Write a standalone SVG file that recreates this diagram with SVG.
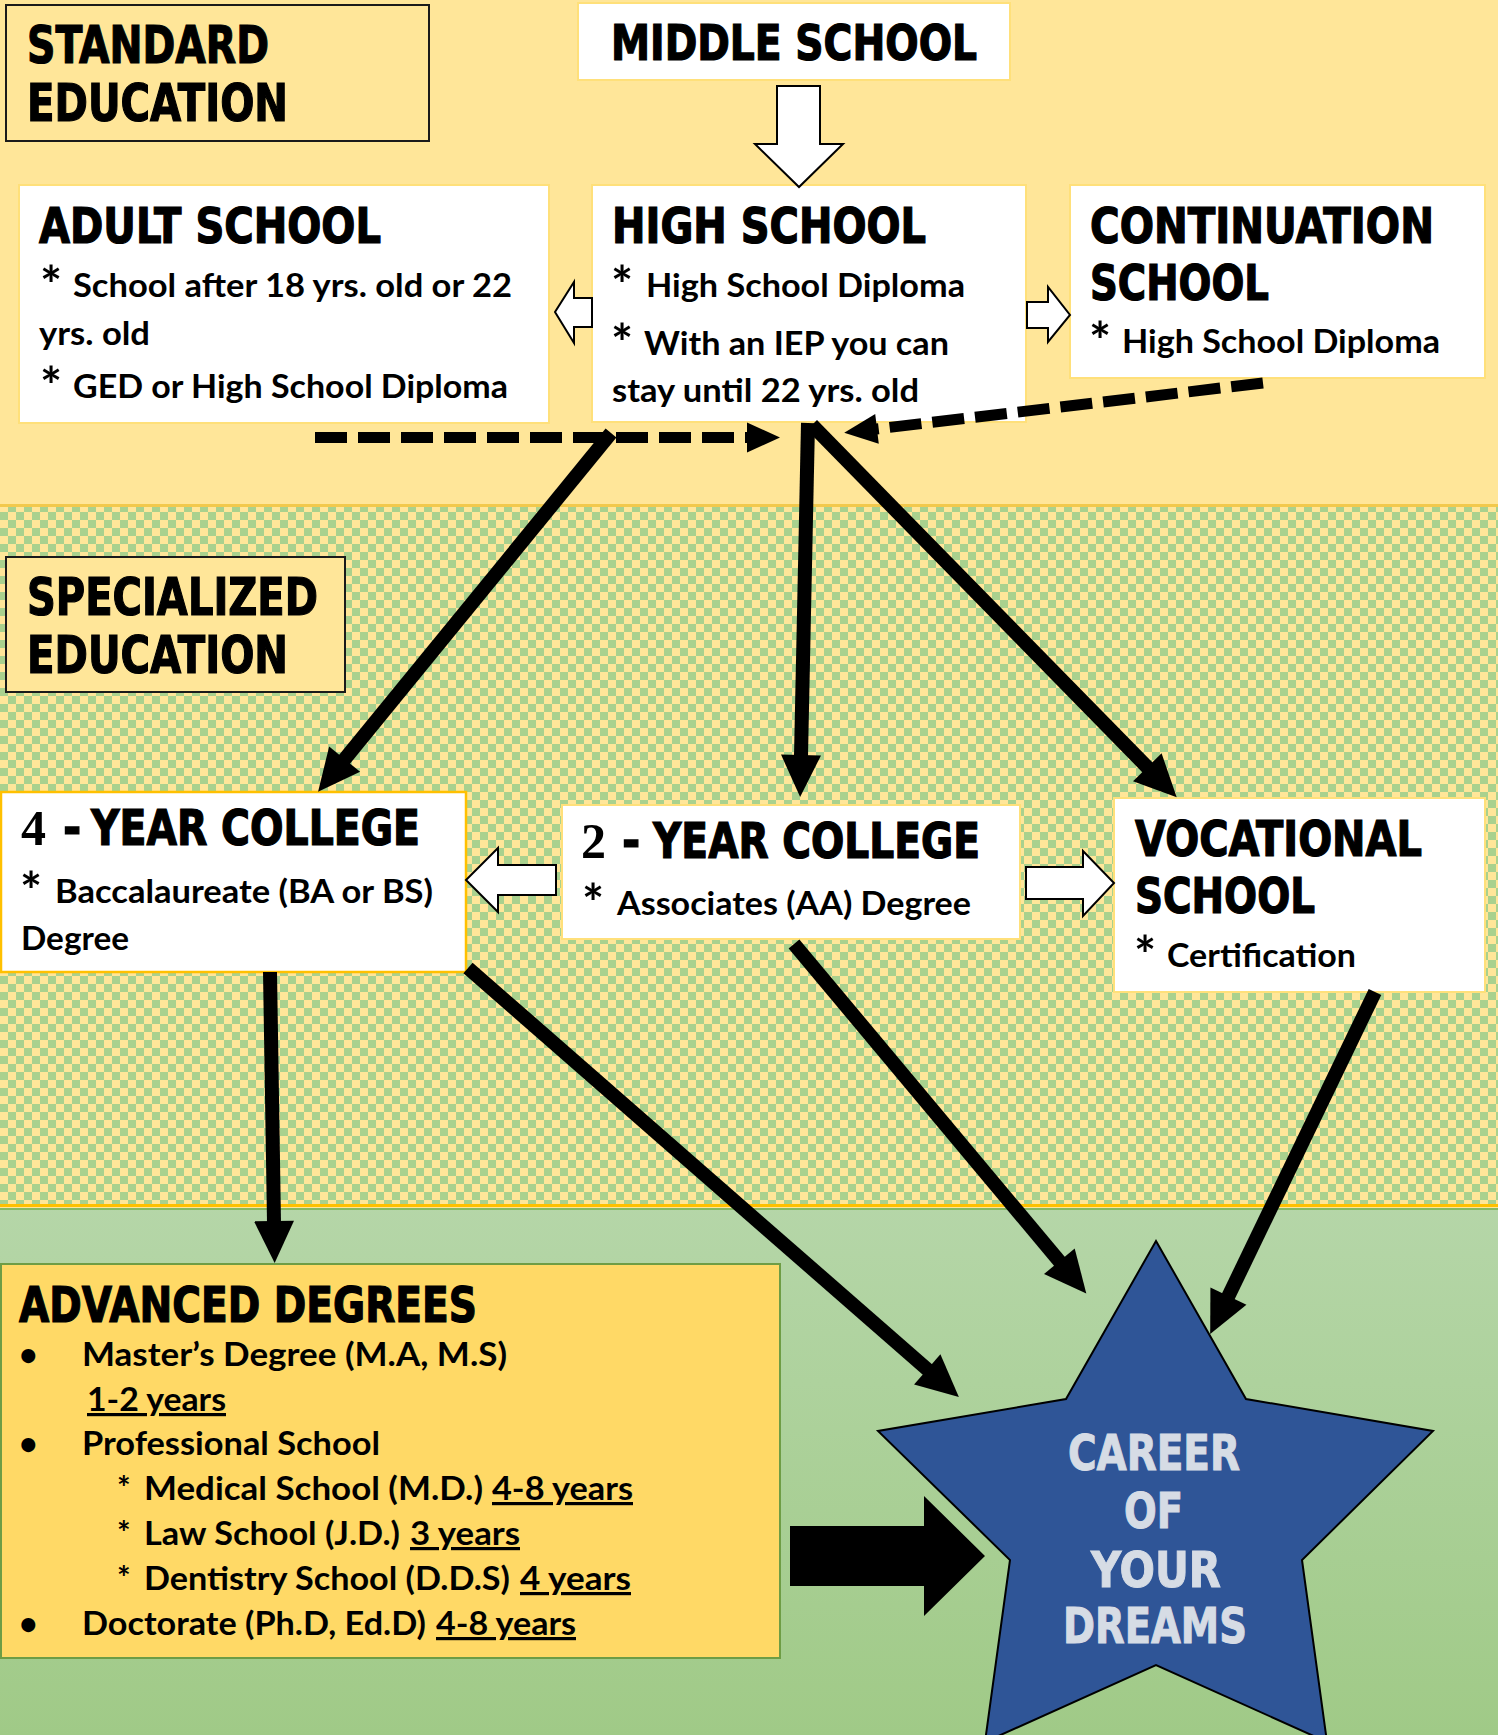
<svg xmlns="http://www.w3.org/2000/svg" width="1498" height="1735" viewBox="0 0 1498 1735">
<defs>
<pattern id="chk" x="0" y="0" width="16" height="16" patternUnits="userSpaceOnUse">
<rect width="16" height="16" fill="#FFE699"/>
<rect width="8" height="8" fill="#A9D18E"/>
<rect x="8" y="8" width="8" height="8" fill="#A9D18E"/>
</pattern>
<linearGradient id="grn" x1="0" y1="0" x2="0" y2="1">
<stop offset="0" stop-color="#B5D6A8"/>
<stop offset="1" stop-color="#A0CA87"/>
</linearGradient>
<marker id="ah" markerUnits="userSpaceOnUse" orient="auto" refX="0" refY="0" markerWidth="60" markerHeight="60" overflow="visible">
<path d="M-1,-20 L41,0 L-1,20 Z" fill="#000"/>
</marker>
<marker id="dh" markerUnits="userSpaceOnUse" orient="auto" refX="0" refY="0" markerWidth="50" markerHeight="50" overflow="visible">
<path d="M-1,-15 L32,0 L-1,15 Z" fill="#000"/>
</marker>
<style>
.t{font-family:"DejaVu Sans Condensed","DejaVu Sans",sans-serif;font-weight:bold;font-size:49px;fill:#000;stroke:#000;stroke-width:1.2px}
.big{font-size:52px}
.sv{font-family:"Liberation Serif",serif;font-weight:bold;font-size:50px;fill:#000}
.b{font-family:Lato,"Open Sans",sans-serif;font-weight:700;font-size:33px;fill:#000}
.a{font-size:32px}
.ast{font-family:Lato,"Open Sans",sans-serif;font-weight:700;font-size:52px;fill:#000}
.u{text-decoration:underline}
.wb{fill:#fff;stroke:#FFE07A;stroke-width:2}
.lab{fill:#FFE699;stroke:#1a1a1a;stroke-width:2}
.blk{fill:#fff;stroke:#000;stroke-width:2;stroke-linejoin:miter}
.sl{stroke:#000;stroke-width:14;fill:none;marker-end:url(#ah)}
.dl{stroke:#000;stroke-width:11;fill:none;stroke-dasharray:32 11;marker-end:url(#dh)}
.st{font-family:"DejaVu Sans Condensed","DejaVu Sans",sans-serif;font-weight:bold;font-size:50px;fill:#D6DCE5;stroke:#D6DCE5;stroke-width:1px}
</style>
</defs>

<g id="background">
<rect x="0" y="0" width="1498" height="506" fill="#FFE699"/>
<rect x="0" y="506" width="1498" height="699" fill="url(#chk)"/>
<rect x="0" y="504" width="1498" height="3" fill="#F2C94C"/>
<rect x="0" y="1205" width="1498" height="530" fill="url(#grn)"/>
<rect x="0" y="1204" width="1498" height="3" fill="#FFC000"/>
<rect x="0" y="1207" width="1498" height="1" fill="#FFE699"/>
<rect x="0" y="1208" width="1498" height="2" fill="#86B862"/>
</g>

<g id="standard-education">
<rect class="lab" x="6" y="5" width="423" height="136"/>
<text class="t big" x="27" y="63" textLength="242" lengthAdjust="spacingAndGlyphs">STANDARD</text>
<text class="t big" x="27" y="121" textLength="261" lengthAdjust="spacingAndGlyphs">EDUCATION</text>
</g>

<g id="middle-school">
<rect class="wb" x="578" y="3" width="432" height="77"/>
<text class="t" x="611" y="60" textLength="366" lengthAdjust="spacingAndGlyphs">MIDDLE SCHOOL</text>
</g>

<g id="adult-school">
<rect class="wb" x="19" y="185" width="530" height="238"/>
<text class="t" x="39" y="243" textLength="342" lengthAdjust="spacingAndGlyphs">ADULT SCHOOL</text>
<text class="ast" x="40" y="304">*</text>
<text class="b" x="73" y="297" textLength="439" lengthAdjust="spacingAndGlyphs">School after 18 yrs. old or 22</text>
<text class="b" x="39" y="345" textLength="111" lengthAdjust="spacingAndGlyphs">yrs. old</text>
<text class="ast" x="40" y="405">*</text>
<text class="b" x="73" y="398" textLength="435" lengthAdjust="spacingAndGlyphs">GED or High School Diploma</text>
</g>

<g id="high-school">
<rect class="wb" x="592" y="185" width="434" height="237"/>
<text class="t" x="612" y="243" textLength="314" lengthAdjust="spacingAndGlyphs">HIGH SCHOOL</text>
<text class="ast" x="611" y="304">*</text>
<text class="b" x="646" y="297" textLength="319" lengthAdjust="spacingAndGlyphs">High School Diploma</text>
<text class="ast" x="611" y="362">*</text>
<text class="b" x="644" y="355" textLength="305" lengthAdjust="spacingAndGlyphs">With an IEP you can</text>
<text class="b" x="612" y="402" textLength="307" lengthAdjust="spacingAndGlyphs">stay until 22 yrs. old</text>
</g>

<g id="continuation-school">
<rect class="wb" x="1070" y="185" width="415" height="193"/>
<text class="t" x="1090" y="243" textLength="344" lengthAdjust="spacingAndGlyphs">CONTINUATION</text>
<text class="t" x="1090" y="300" textLength="179" lengthAdjust="spacingAndGlyphs">SCHOOL</text>
<text class="ast" x="1089" y="360">*</text>
<text class="b" x="1122" y="353" textLength="318" lengthAdjust="spacingAndGlyphs">High School Diploma</text>
</g>

<g id="specialized-education">
<rect class="lab" x="6" y="557" width="339" height="135"/>
<text class="t big" x="27" y="615" textLength="291" lengthAdjust="spacingAndGlyphs">SPECIALIZED</text>
<text class="t big" x="27" y="673" textLength="261" lengthAdjust="spacingAndGlyphs">EDUCATION</text>
</g>

<g id="four-year-college">
<rect x="1" y="792" width="465" height="180" fill="#fff" stroke="#FFC000" stroke-width="2.5"/>
<text class="sv" x="21" y="845">4</text>
<text class="t" x="63" y="845">-</text>
<text class="t" x="91" y="845" textLength="329" lengthAdjust="spacingAndGlyphs">YEAR COLLEGE</text>
<text class="ast" x="20" y="910">*</text>
<text class="b" x="55" y="903" textLength="378" lengthAdjust="spacingAndGlyphs">Baccalaureate (BA or BS)</text>
<text class="b" x="21" y="950" textLength="108" lengthAdjust="spacingAndGlyphs">Degree</text>
</g>

<g id="two-year-college">
<rect class="wb" x="562" y="805" width="458" height="134"/>
<text class="sv" x="581" y="858">2</text>
<text class="t" x="622" y="858">-</text>
<text class="t" x="653" y="858" textLength="327" lengthAdjust="spacingAndGlyphs">YEAR COLLEGE</text>
<text class="ast" x="582" y="922">*</text>
<text class="b" x="617" y="915" textLength="354" lengthAdjust="spacingAndGlyphs">Associates (AA) Degree</text>
</g>

<g id="vocational-school">
<rect class="wb" x="1114" y="798" width="371" height="194"/>
<text class="t" x="1135" y="856" textLength="287" lengthAdjust="spacingAndGlyphs">VOCATIONAL</text>
<text class="t" x="1135" y="913" textLength="180" lengthAdjust="spacingAndGlyphs">SCHOOL</text>
<text class="ast" x="1134" y="974">*</text>
<text class="b" x="1167" y="967" textLength="189" lengthAdjust="spacingAndGlyphs">Certification</text>
</g>

<g id="advanced-degrees">
<rect x="1" y="1264" width="779" height="394" fill="#FFD966" stroke="#6E9D45" stroke-width="2"/>
<text class="t" x="19" y="1322" textLength="458" lengthAdjust="spacingAndGlyphs">ADVANCED DEGREES</text>
<text class="b a" x="19" y="1366">•</text>
<text class="b a" x="82" y="1366" textLength="425" lengthAdjust="spacingAndGlyphs">Master’s Degree (M.A, M.S)</text>
<text class="b a u" x="87" y="1411" textLength="139" lengthAdjust="spacingAndGlyphs">1-2 years</text>
<text class="b a" x="19" y="1455">•</text>
<text class="b a" x="82" y="1455" textLength="298" lengthAdjust="spacingAndGlyphs">Professional School</text>
<text class="b a" x="117" y="1500">*</text>
<text class="b a" x="144" y="1500" textLength="339" lengthAdjust="spacingAndGlyphs">Medical School (M.D.)</text>
<text class="b a u" x="492" y="1500" textLength="141" lengthAdjust="spacingAndGlyphs">4-8 years</text>
<text class="b a" x="117" y="1545">*</text>
<text class="b a" x="144" y="1545" textLength="256" lengthAdjust="spacingAndGlyphs">Law School (J.D.)</text>
<text class="b a u" x="410" y="1545" textLength="110" lengthAdjust="spacingAndGlyphs">3 years</text>
<text class="b a" x="117" y="1590">*</text>
<text class="b a" x="144" y="1590" textLength="366" lengthAdjust="spacingAndGlyphs">Dentistry School (D.D.S)</text>
<text class="b a u" x="520" y="1590" textLength="111" lengthAdjust="spacingAndGlyphs">4 years</text>
<text class="b a" x="19" y="1635">•</text>
<text class="b a" x="82" y="1635" textLength="344" lengthAdjust="spacingAndGlyphs">Doctorate (Ph.D, Ed.D)</text>
<text class="b a u" x="436" y="1635" textLength="140" lengthAdjust="spacingAndGlyphs">4-8 years</text>
</g>

<g id="career-star">
<polygon points="1156,1241 1246,1399 1433,1431 1302,1560 1327,1742 1156,1665 985,1742 1010,1560 878,1431 1066,1399" fill="#2F5597" stroke="#000" stroke-width="2"/>
<text class="st" x="1068" y="1470" textLength="172" lengthAdjust="spacingAndGlyphs">CAREER</text>
<text class="st" x="1124" y="1528" textLength="59" lengthAdjust="spacingAndGlyphs">OF</text>
<text class="st" x="1091" y="1587" textLength="130" lengthAdjust="spacingAndGlyphs">YOUR</text>
<text class="st" x="1063" y="1643" textLength="184" lengthAdjust="spacingAndGlyphs">DREAMS</text>
</g>

<g id="connectors">
<polygon class="blk" points="777,86 820,86 820,144 843,144 799,187 755,144 777,144"/>
<polygon class="blk" points="592,298 574,298 574,282 555,312 574,343 574,327 592,327"/>
<polygon class="blk" points="1027,302 1048,302 1048,287 1070,315 1048,342 1048,328 1027,328"/>
<polygon class="blk" points="556,865 498,865 498,848 466,880 498,912 498,895 556,895"/>
<polygon class="blk" points="1026,867 1083,867 1083,851 1114,883 1083,916 1083,899 1026,899"/>
<line class="dl" x1="315" y1="437.5" x2="748" y2="437.5"/>
<line class="dl" x1="1263" y1="383" x2="876" y2="429"/>
<line class="sl" x1="611" y1="433" x2="344" y2="760"/>
<line class="sl" x1="808" y1="423" x2="801" y2="756"/>
<line class="sl" x1="812" y1="425" x2="1148" y2="768"/>
<line class="sl" x1="270" y1="972" x2="274" y2="1222"/>
<line class="sl" x1="468" y1="968" x2="928" y2="1370"/>
<line class="sl" x1="794" y1="944" x2="1060" y2="1262"/>
<line class="sl" x1="1375" y1="992" x2="1228" y2="1297"/>
<polygon points="790,1526 924,1526 924,1496 985,1556 924,1616 924,1586 790,1586" fill="#000"/>
</g>
</svg>
